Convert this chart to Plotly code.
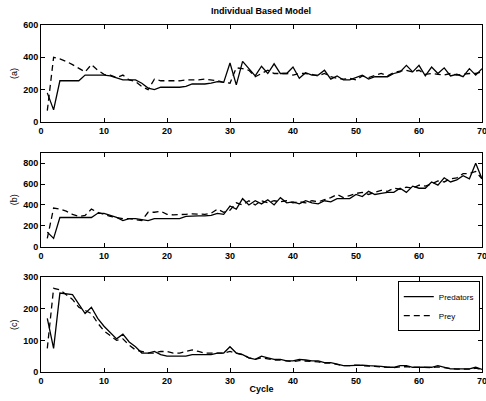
import plotly.graph_objects as go

cycles = list(range(1, 71))

pred_a = [180, 75, 255, 255, 255, 255, 290, 290, 290, 290,
          285, 270, 260, 260, 260, 240, 210, 200, 215, 215,
          215, 215, 220, 235, 235, 235, 240, 250, 245, 365,
          230, 375, 330, 285, 345, 300, 360, 300, 300, 340,
          270, 305, 290, 290, 320, 265, 285, 260, 260, 275,
          290, 265, 280, 280, 280, 300, 310, 350, 310, 350,
          285, 340, 300, 335, 285, 295, 280, 330, 290, 330]
prey_a = [70, 400, 390, 375, 355, 330, 310, 355, 320, 295,
          290, 275, 290, 260, 250, 220, 200, 265, 255, 255,
          255, 255, 260, 260, 260, 265, 260, 255, 245, 240,
          335, 330, 320, 280, 300, 320, 300, 300, 300, 290,
          300, 300, 295, 285, 300, 280, 270, 265, 270, 260,
          285, 275, 290, 300, 285, 305, 315, 320, 310, 320,
          295, 300, 295, 290, 300, 290, 295, 300, 300, 310]
pred_b = [140, 80, 280, 280, 280, 280, 280, 280, 320, 320,
          300, 280, 250, 270, 270, 260, 250, 270, 270, 270,
          270, 270, 290, 295, 295, 295, 300, 320, 310, 390,
          360, 460, 400, 440, 410, 450, 400, 470, 420, 430,
          410, 440, 420, 410, 440, 430, 460, 460, 460, 500,
          480, 530, 500, 510, 520, 520, 560, 520, 580, 560,
          560, 620, 590, 660, 620, 640, 680, 650, 800, 650]
prey_b = [80, 370, 360, 340, 310, 290, 300, 360, 330, 310,
          290, 280, 270, 270, 260, 250, 330, 330, 340, 310,
          305, 305, 310, 315, 315, 310, 320, 360, 330, 350,
          420, 400, 440, 400, 440, 420, 440, 430, 440, 420,
          430, 420, 440, 430, 450, 470, 500, 470, 490, 510,
          520, 500, 520, 540, 530, 560, 550, 570, 560, 590,
          580, 600, 630, 620, 650, 660, 700, 700, 720, 650]
pred_c = [170, 75, 250, 248, 245, 215, 185, 205, 170, 145,
          125, 105, 120, 95, 80, 60, 60, 65, 55, 50,
          50, 50, 50, 55, 55, 55, 55, 60, 60, 80,
          60, 55, 45, 40, 50, 45, 40, 40, 35, 35,
          40, 38, 35, 35, 30, 30, 25, 20, 20, 22,
          22, 20, 20, 18, 15, 15, 20, 20, 15, 15,
          15, 15, 20, 15, 10, 10, 10, 10, 15, 8]
prey_c = [75, 265, 260, 245, 230, 205, 195, 185, 155, 130,
          115, 100, 105, 85, 70, 65, 60, 60, 65, 65,
          60, 60, 65, 70, 65, 60, 60, 60, 60, 65,
          60, 55, 45, 40, 45, 42, 38, 38, 35, 33,
          36, 35, 33, 32, 28, 28, 24, 20, 20, 22,
          20, 20, 18, 16, 15, 14, 16, 17, 15, 14,
          14, 14, 16, 13, 10, 9, 9, 9, 12, 8]

panel_labels = ["(a)", "(b)", "(c)"]
y_ranges = [[0, 600], [0, 900], [0, 300]]
y_ticks = [[0, 200, 400, 600], [0, 200, 400, 600, 800], [0, 100, 200, 300]]
x_ticks = [0, 10, 20, 30, 40, 50, 60, 70]

FONT = "Liberation Sans, Arial, sans-serif"
fig = go.Figure()
series = [(pred_a, prey_a), (pred_b, prey_b), (pred_c, prey_c)]
for i, (pr, py) in enumerate(series):
    xa = "x" if i == 0 else f"x{i+1}"
    ya = "y" if i == 0 else f"y{i+1}"
    fig.add_trace(go.Scatter(x=cycles, y=pr, mode="lines", name="Predators",
                             line=dict(color="black", width=1.3),
                             xaxis=xa, yaxis=ya, showlegend=(i == 2)))
    fig.add_trace(go.Scatter(x=cycles, y=py, mode="lines", name="Prey",
                             line=dict(color="black", width=1.3, dash="6px,4px"),
                             xaxis=xa, yaxis=ya, showlegend=(i == 2)))

domains = [[0.7205, 1.0], [0.361, 0.632], [0.0, 0.273]]
axis_common = dict(showline=True, linecolor="black", linewidth=1, mirror="ticks",
                   ticks="inside", ticklen=4, tickcolor="black", showgrid=False,
                   zeroline=False, automargin=False, ticklabeloverflow="allow",
                   tickfont=dict(family=FONT, size=9, color="black", weight="bold"))
layout = dict()
for i in range(3):
    xk = "xaxis" if i == 0 else f"xaxis{i+1}"
    yk = "yaxis" if i == 0 else f"yaxis{i+1}"
    ya = "y" if i == 0 else f"y{i+1}"
    xa = "x" if i == 0 else f"x{i+1}"
    layout[xk] = dict(axis_common, range=[0, 70], tickvals=x_ticks, anchor=ya,
                      domain=[0, 1])
    layout[yk] = dict(axis_common, range=y_ranges[i], tickvals=y_ticks[i], anchor=xa,
                      domain=domains[i],
                      title=dict(text=panel_labels[i], standoff=4,
                                 font=dict(family=FONT, size=9, color="black")))
layout["xaxis3"]["title"] = dict(text="Cycle", standoff=0,
                                 font=dict(family=FONT, size=9, color="black", weight="bold"))

fig.update_layout(**layout)
fig.update_layout(
    width=486, height=401,
    margin=dict(l=41, r=4, t=25, b=29),
    paper_bgcolor="white", plot_bgcolor="white",
    title=dict(text="Individual Based Model", x=0.537, xanchor="center", y=0.972,
               yanchor="middle",
               font=dict(family=FONT, size=9, color="black", weight="bold")),
    legend=dict(x=0.995, y=0.262, xanchor="right", yanchor="top",
                bordercolor="black", borderwidth=1, bgcolor="white",
                font=dict(family=FONT, size=8, color="black"),
                tracegroupgap=0, itemwidth=30),
    showlegend=True,
)
fig.write_html("out.html", config={"displayModeBar": False},
               post_script="document.body.style.margin='0';document.body.style.overflow='hidden';")
